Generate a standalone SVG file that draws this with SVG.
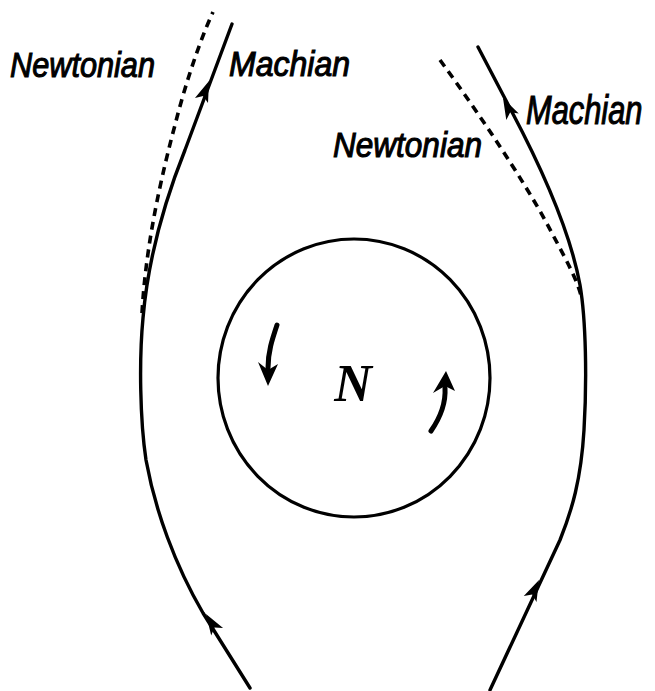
<svg xmlns="http://www.w3.org/2000/svg" width="655" height="691" viewBox="0 0 655 691">
<style>
.line{fill:none;stroke:#000;stroke-width:3.4;stroke-linecap:round}
.dash{fill:none;stroke:#000;stroke-width:3.6;stroke-dasharray:8 6}
.lbl{font-family:"Liberation Sans",Arial,sans-serif;font-style:italic;font-size:35px;fill:#000;stroke:#000;stroke-width:1.1}
.big{font-family:"Liberation Serif","Times New Roman",serif;font-style:italic;font-weight:bold;font-size:52px;fill:#000}
.spin{fill:none;stroke:#000;stroke-width:5;stroke-linecap:round}
</style>
<defs>
<polygon id="ah" points="0,0 -21,-7 -16,0 -21,7" fill="#000"/>
</defs>
<rect width="655" height="691" fill="#fff"/>
<g id="connectors">
<path class="line" d="M250,688 L203,613 C175,565 155,510 146,460 C140,420 139,360 143,318 C148,260 165,200 185,150 L232,24"/>
<path class="dash" d="M142,313 C145,260 155,200 175,125 C185,85 200,40 213,12"/>
<path class="line" d="M478,47 L512,112 C540,165 570,230 580,285 C586,320 587,380 584,430 C581,480 572,510 560,540 L490,690"/>
<path class="dash" d="M440,60 C480,115 520,175 545,220 C565,258 578,280 582,300"/>
<use href="#ah" transform="translate(209,81) rotate(-69)"/>
<use href="#ah" transform="translate(503,98) rotate(-117)"/>
<use href="#ah" transform="translate(206,614) rotate(-122)"/>
<use href="#ah" transform="translate(539,580) rotate(-65)"/>
</g>
<g id="body">
<ellipse cx="354" cy="378" rx="136" ry="139" fill="none" stroke="#000" stroke-width="3.2"/>
<path class="spin" d="M277,325 C272,340 268,352 268,368"/>
<polygon points="258,362 268,370 278,364 268,386" fill="#000"/>
<path class="spin" d="M431,431 C440,418 446,405 445,388" stroke-width="6"/>
<polygon points="433,393 445,386 455,391 446,371" fill="#000"/>
<text class="big" x="353" y="401" text-anchor="middle">N</text>
</g>
<g id="labels">
<text class="lbl" x="10" y="77" textLength="145" lengthAdjust="spacingAndGlyphs">Newtonian</text>
<text class="lbl" x="229" y="76" textLength="121" lengthAdjust="spacingAndGlyphs">Machian</text>
<text class="lbl" x="333" y="157" textLength="149" lengthAdjust="spacingAndGlyphs">Newtonian</text>
<text class="lbl" transform="translate(526,124) scale(0.77,1)" style="font-size:40px">Machian</text>
</g>
</svg>
